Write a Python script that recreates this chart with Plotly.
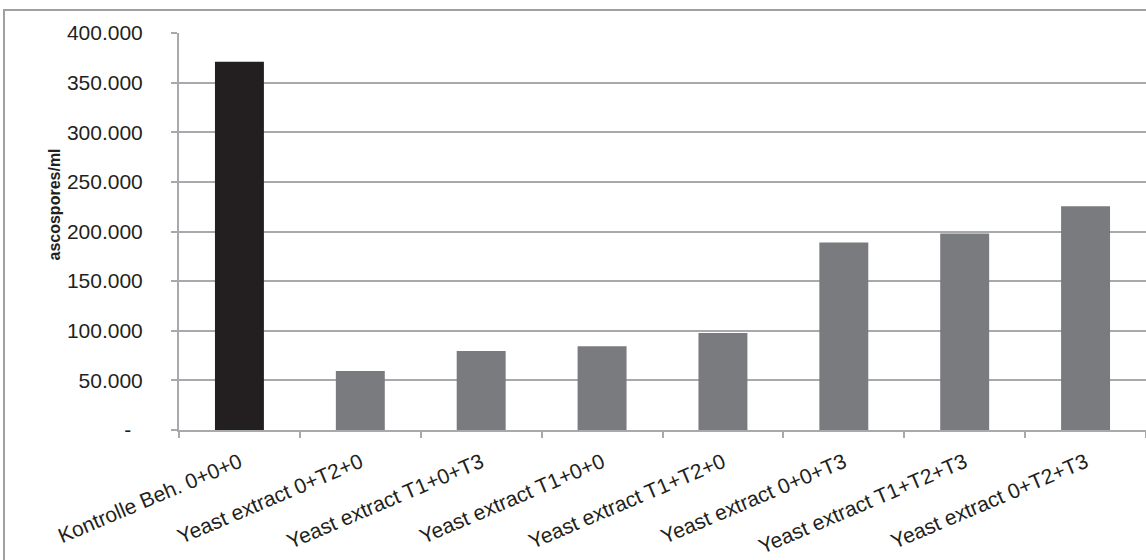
import plotly.graph_objects as go

# Treatments and ascospore counts
categories = [
    "Kontrolle Beh. 0+0+0",
    "Yeast extract 0+T2+0",
    "Yeast extract T1+0+T3",
    "Yeast extract T1+0+0",
    "Yeast extract T1+T2+0",
    "Yeast extract 0+0+T3",
    "Yeast extract T1+T2+T3",
    "Yeast extract 0+T2+T3",
]
ascospores = [371000, 59500, 79500, 84500, 97700, 188800, 198000, 225500]
bar_colors = ["#231f20"] + ["#7a7b7f"] * 7

y_tickvals = [0, 50000, 100000, 150000, 200000, 250000, 300000, 350000, 400000]
y_ticktext = ["-\u00a0\u00a0", "50.000", "100.000", "150.000", "200.000",
              "250.000", "300.000", "350.000", "400.000"]

W, H = 1146, 560
ML, MR, MT, MB = 179, 0, 33, 130
pw, ph = W - ML - MR, H - MT - MB

def px_to_paper_x(px):
    return (px - ML) / pw

def px_to_paper_y(py):
    return (H - MB - py) / ph

fig = go.Figure(
    go.Bar(
        x=categories,
        y=ascospores,
        marker=dict(color=bar_colors, line=dict(width=0)),
        hoverinfo="x+y",
    )
)

grid_col = "#a7a9ac"
font_family = "Liberation Sans, Arial, sans-serif"

fig.update_layout(
    width=W,
    height=H,
    margin=dict(l=ML, r=MR, t=MT, b=MB),
    paper_bgcolor="white",
    plot_bgcolor="white",
    bargap=0.595,
    showlegend=False,
    font=dict(family=font_family, size=21, color="#231f20"),
    xaxis=dict(
        range=[-0.5, 7.5],
        automargin=False,
        tickangle=-23,
        tickson="boundaries",
        ticks="outside",
        ticklen=6,
        tickwidth=1.5,
        tickcolor=grid_col,
        showline=True,
        linecolor=grid_col,
        linewidth=2,
        showgrid=False,
        ticklabelstandoff=10,
        tickfont=dict(size=21),
    ),
    yaxis=dict(
        range=[0, 400000],
        automargin=False,
        tickvals=y_tickvals,
        ticktext=y_ticktext,
        ticks="outside",
        ticklen=6,
        tickwidth=2,
        tickcolor=grid_col,
        showgrid=True,
        gridcolor=grid_col,
        gridwidth=2,
        showline=True,
        linecolor=grid_col,
        linewidth=2,
        zeroline=False,
        ticklabelstandoff=24,
        tickfont=dict(size=21),
    ),
    shapes=[
        dict(
            type="rect",
            xref="paper", yref="paper",
            x0=px_to_paper_x(4), x1=px_to_paper_x(W + 20),
            y0=px_to_paper_y(H + 20), y1=px_to_paper_y(10),
            line=dict(color="#a0a0a0", width=2),
            fillcolor="rgba(0,0,0,0)",
            layer="below",
        )
    ],
    annotations=[
        dict(
            text="<b>ascospores/ml</b>",
            xref="paper", yref="paper",
            x=px_to_paper_x(43), y=px_to_paper_y(205),
            textangle=-90,
            showarrow=False,
            font=dict(size=16, family=font_family, color="#231f20"),
        )
    ],
)

fig.write_html("out.html")
